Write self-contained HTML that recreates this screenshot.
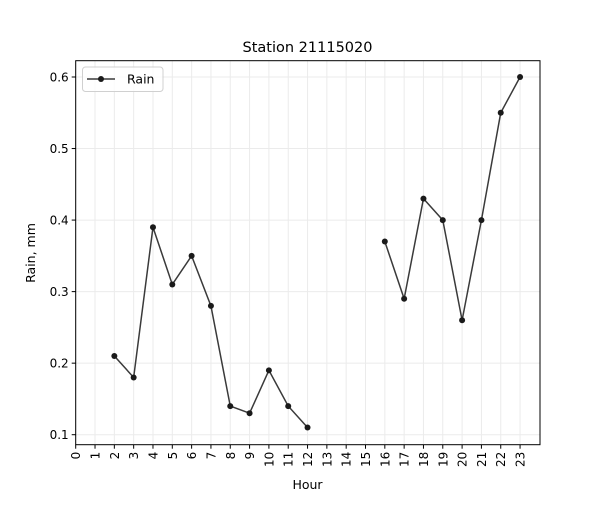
<!DOCTYPE html>
<html><head><meta charset="utf-8"><style>
body{margin:0;background:#fff}
svg text{font-family:"DejaVu Sans","Liberation Sans",sans-serif;fill:#000}
</style></head><body>
<svg id="c" width="600" height="500"></svg>
<script>
const hours=[0,1,2,3,4,5,6,7,8,9,10,11,12,13,14,15,16,17,18,19,20,21,22,23];
const rain=[null,null,0.21,0.18,0.39,0.31,0.35,0.28,0.14,0.13,0.19,0.14,0.11,null,null,null,0.37,0.29,0.43,0.40,0.26,0.40,0.55,0.60];
const yTicks=[0.1,0.2,0.3,0.4,0.5,0.6];
const L=75.7,R=540,T=60.7,B=444.7;
const xs=h=>L+h*19.32;
const ys=v=>434.7-(v-0.1)*715.4;
const svg=document.getElementById('c');const NS='http://www.w3.org/2000/svg';
function mk(t,a,p){const e=document.createElementNS(NS,t);for(const k in a)e.setAttribute(k,a[k]);(p||svg).appendChild(e);return e;}
// grid
hours.forEach(h=>{const g=mk('line',{x1:xs(h),x2:xs(h),y1:T,y2:B,stroke:'#ebebeb','stroke-width':1});

});
yTicks.forEach(v=>{const g=mk('line',{x1:L,x2:R,y1:ys(v),y2:ys(v),stroke:'#ebebeb','stroke-width':1});

});
// line segments
let seg=[];const segs=[];
hours.forEach((h,i)=>{if(rain[i]==null){if(seg.length)segs.push(seg);seg=[];}else seg.push([xs(h),ys(rain[i])]);});
if(seg.length)segs.push(seg);
segs.forEach(s=>{const p=mk('polyline',{points:s.map(q=>q.join(',')).join(' '),fill:'none',stroke:'#3a3a3a','stroke-width':1.5});

});
hours.forEach((h,i)=>{if(rain[i]==null)return;const c=mk('circle',{cx:xs(h),cy:ys(rain[i]),r:3,fill:'#1a1a1a'});

});
// axes frame
const f=mk('rect',{x:L,y:T,width:R-L,height:B-T,fill:'none',stroke:'#000','stroke-width':1});


hours.forEach(h=>{mk('line',{x1:xs(h),x2:xs(h),y1:B,y2:B+4,stroke:'#000'});
const t=mk('text',{x:0,y:0,'font-size':12,'text-anchor':'end',transform:`translate(${xs(h)+4.5},${B+7}) rotate(-90)`});t.textContent=h;

});
yTicks.forEach(v=>{mk('line',{x1:L-4,x2:L,y1:ys(v),y2:ys(v),stroke:'#000'});
const t=mk('text',{x:L-7,y:ys(v)+4.5,'font-size':12,'text-anchor':'end'});t.textContent=v.toFixed(1);

});
const ti=mk('text',{x:307.5,y:52,'font-size':14.5,'text-anchor':'middle'});ti.textContent='Station 21115020';


const xl=mk('text',{x:307.5,y:489,'font-size':12.5,'text-anchor':'middle'});xl.textContent='Hour';


const yl=mk('text',{x:0,y:0,'font-size':12.5,'text-anchor':'middle',transform:'translate(35,253) rotate(-90)'});yl.textContent='Rain, mm';


// legend
const lg=mk('g',{});


mk('rect',{x:82.5,y:67,width:80.5,height:24.5,rx:3,fill:'#fff',stroke:'#d0d0d0','fill-opacity':0.8},lg);
mk('line',{x1:87,x2:115,y1:79,y2:79,stroke:'#3a3a3a','stroke-width':1.5},lg);
mk('circle',{cx:101,cy:79,r:3,fill:'#1a1a1a'},lg);
const lt=mk('text',{x:127,y:83.5,'font-size':12.5},lg);lt.textContent='Rain';


</script>
</body></html>
